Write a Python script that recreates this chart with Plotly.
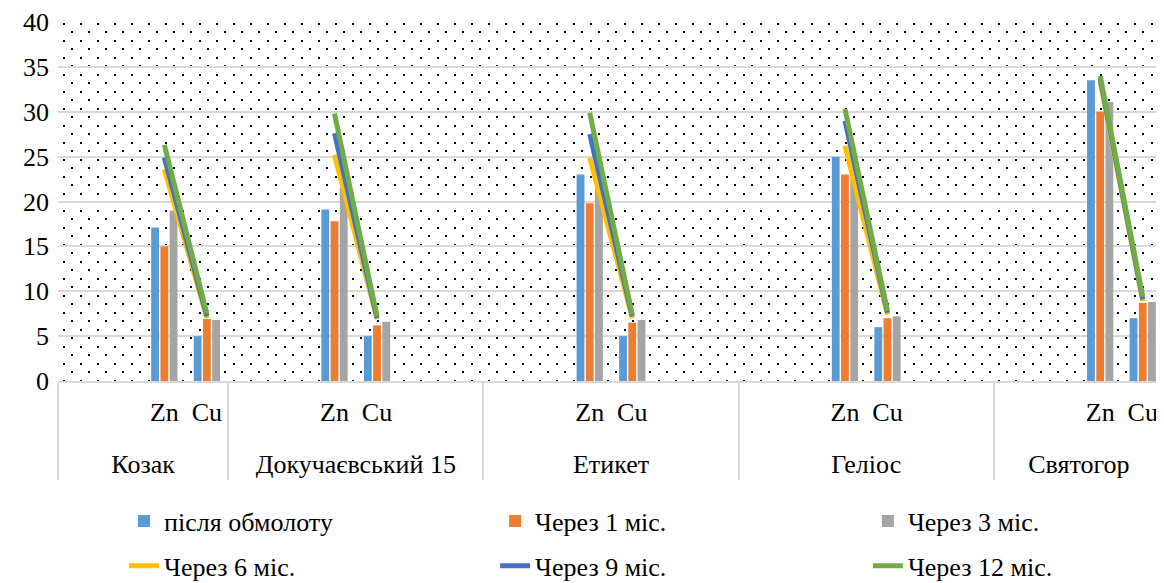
import base64
import plotly.graph_objects as go

# ---------------- data ----------------
groups = ["Козак", "Докучаєвський 15", "Етикет", "Геліос", "Святогор"]
elements = ["Zn", "Cu"]
leading_blanks = [2, 2, 2, 2, 2]
trailing_blanks = [0, 2, 2, 2, 0]

after_threshing_zn = [17.1, 19.1, 23.0, 25.0, 33.5]
after_threshing_cu = [5.0, 5.0, 5.0, 6.0, 7.0]
month1_zn = [15.0, 17.8, 19.8, 23.0, 30.0]
month1_cu = [6.9, 6.2, 6.5, 7.0, 8.7]
month3_zn = [19.0, 21.5, 23.0, 24.0, 31.1]
month3_cu = [6.8, 6.6, 6.8, 7.2, 8.8]
month6_zn = [23.6, 25.2, 24.9, 26.2, 33.3]
month6_cu = [7.0, 6.9, 7.0, 7.4, 8.9]
month9_zn = [24.9, 27.6, 27.5, 29.0, 33.7]
month9_cu = [7.2, 7.0, 7.2, 7.6, 9.1]
month12_zn = [26.3, 29.8, 29.9, 30.3, 34.0]
month12_cu = [7.5, 7.2, 7.4, 7.8, 9.4]

bar_series = [
    ("після обмолоту", after_threshing_zn, after_threshing_cu, "#5B9BD5"),
    ("Через 1 міс.", month1_zn, month1_cu, "#ED7D31"),
    ("Через 3 міс.", month3_zn, month3_cu, "#A5A5A5"),
]
line_series = [
    ("Через 6 міс.", month6_zn, month6_cu, "#FFC000"),
    ("Через 9 міс.", month9_zn, month9_cu, "#4472C4"),
    ("Через 12 міс.", month12_zn, month12_cu, "#70AD47"),
]

FONT = "Liberation Serif"
FS = 26

# ---------------- build multicategory slots ----------------
# empty slots get an invisible, tall label so the group-name row sits lower
def blank_label(k):
    return ("<span style='font-size:52px;color:rgba(0,0,0,0)'>"
            + "|" * k + "</span>")

outer, inner, keys = [], [], []
for gi, g in enumerate(groups):
    used = 0
    for _ in range(leading_blanks[gi]):
        used += 1
        outer.append(g); inner.append(blank_label(used)); keys.append(None)
    for ei, e in enumerate(elements):
        outer.append(g); inner.append(e); keys.append((gi, ei))
    for _ in range(trailing_blanks[gi]):
        used += 1
        outer.append(g); inner.append(blank_label(used)); keys.append(None)


def expand(zn, cu):
    return [None if k is None else (zn, cu)[k[1]][k[0]] for k in keys]


fig = go.Figure()
legend_ids = ["legend", "legend2", "legend3", "legend4", "legend5", "legend6"]
li = 0
for name, zn, cu, col in bar_series:
    fig.add_trace(go.Bar(
        x=[outer, inner], y=expand(zn, cu), name=name,
        marker=dict(color=col, line=dict(width=0)),
        legend=legend_ids[li], hoverinfo="skip",
    ))
    li += 1
for name, zn, cu, col in line_series:
    fig.add_trace(go.Scatter(
        x=[outer, inner], y=expand(zn, cu), name=name, mode="lines",
        line=dict(color=col, width=5), connectgaps=False,
        legend=legend_ids[li], hoverinfo="skip",
    ))
    li += 1

# dotted pattern background (Excel 5% pattern look)
W, H = 1106, 359
svg = (
    f'<svg xmlns="http://www.w3.org/2000/svg" width="{W}" height="{H}" '
    f'viewBox="0 0 {W} {H}" preserveAspectRatio="none">'
    '<defs><pattern id="p" width="17" height="17" patternUnits="userSpaceOnUse">'
    '<rect x="5" y="1" width="2" height="2" fill="#000"/>'
    '<rect x="13" y="9" width="2" height="2" fill="#000"/>'
    '</pattern></defs>'
    f'<rect width="{W}" height="{H}" fill="#fff"/>'
    f'<rect width="{W}" height="{H}" fill="url(#p)"/></svg>'
)
src = "data:image/svg+xml;base64," + base64.b64encode(svg.encode()).decode()

col_x = [0.0597, 0.3952, 0.7323]
row_y = [-0.390, -0.515]
legend_layout = {}
for i, lid in enumerate(legend_ids):
    legend_layout[lid] = dict(
        orientation="h", x=col_x[i % 3], xanchor="left",
        y=row_y[i // 3], yanchor="middle",
        font=dict(family=FONT, size=FS, color="#000"),
        bgcolor="rgba(0,0,0,0)", borderwidth=0,
    )

# page body has an 8px margin: figure is sized so it ends at the window edge
fig.update_layout(
    width=1156, height=575,
    margin=dict(l=50, r=0, t=14, b=202, autoexpand=False),
    paper_bgcolor="white", plot_bgcolor="rgba(0,0,0,0)",
    barmode="group", bargap=0.35, bargroupgap=0.15,
    font=dict(family=FONT, size=FS, color="#000"),
    images=[dict(source=src, xref="paper", yref="paper", x=0, y=1,
                 sizex=1, sizey=1, xanchor="left", yanchor="top",
                 sizing="stretch", layer="below")],
    xaxis=dict(
        type="multicategory", showgrid=False, showline=True,
        linecolor="#d9d9d9", linewidth=1.5, ticks="", tickangle=0,
        showdividers=True, dividercolor="#d9d9d9", dividerwidth=1.5,
        tickfont=dict(family=FONT, size=FS, color="#000"),
        ticklabelstandoff=7,
    ),
    yaxis=dict(
        range=[0, 40], dtick=5, showgrid=True, gridcolor="#d9d9d9",
        gridwidth=1.5, zeroline=False, showline=False, ticks="",
        tickfont=dict(family=FONT, size=FS, color="#000"),
        ticklabelstandoff=8,
    ),
    showlegend=True,
    **legend_layout,
)

fig.write_html("out.html")
